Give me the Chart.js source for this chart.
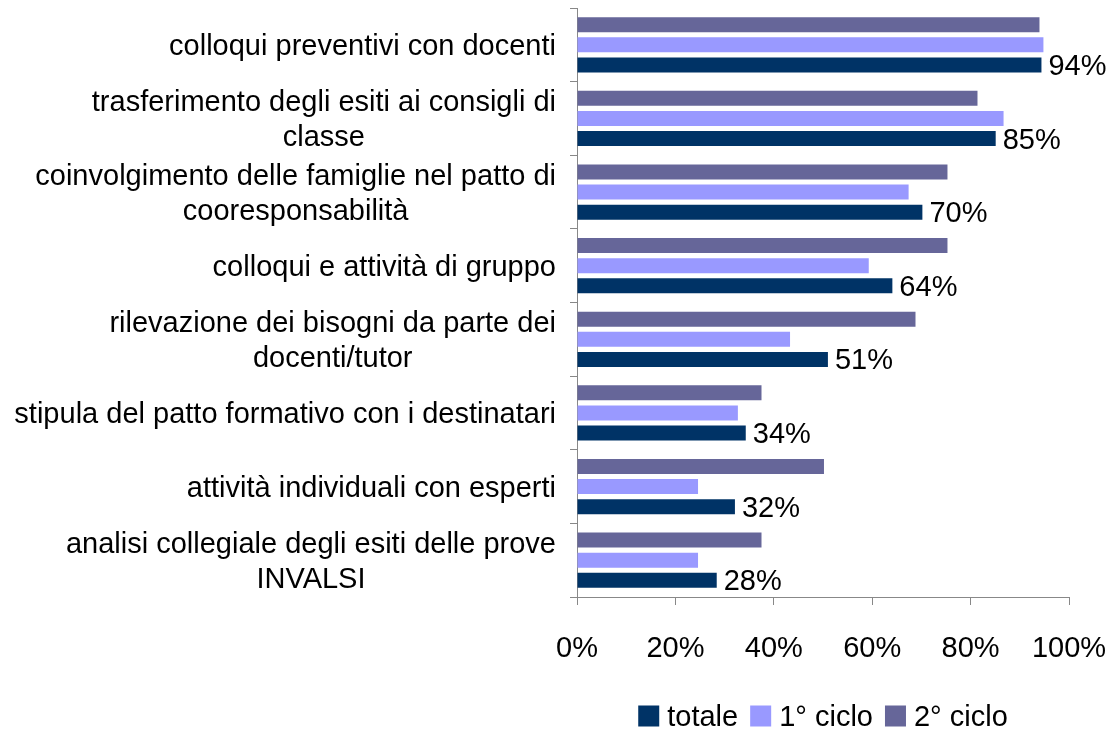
<!DOCTYPE html>
<html lang="it">

<head>
  <meta charset="UTF-8" />
  <title>Attività di orientamento</title>
  <script src="https://cdn.jsdelivr.net/npm/chart.js"></script>
  <style>
    html, body { margin: 0; padding: 0; background: #fff; }
    #wrap { width: 1115px; height: 729px; }
  </style>
</head>

<body>
  <div id="wrap"><canvas id="chart" width="1115" height="729"></canvas></div>

  <script>
    const categories = [
      ['colloqui preventivi con docenti'],
      ['trasferimento degli esiti ai consigli di', 'classe'],
      ['coinvolgimento delle famiglie nel patto di', 'cooresponsabilità'],
      ['colloqui e attività di gruppo'],
      ['rilevazione dei bisogni da parte dei', 'docenti/tutor'],
      ['stipula del patto formativo con i destinatari'],
      ['attività individuali con esperti'],
      ['analisi collegiale degli esiti delle prove', 'INVALSI']
    ];
    const totale = [94.4, 85.1, 70.2, 64.1, 51.0, 34.3, 32.1, 28.4];
    const ciclo1 = [94.8, 86.7, 67.4, 59.3, 43.3, 32.7, 24.6, 24.6];
    const ciclo2 = [94.0, 81.4, 75.3, 75.3, 68.8, 37.5, 50.2, 37.5];
    const xTicks = [0, 20, 40, 60, 80, 100];

    const FONT = '"Liberation Sans", Arial, sans-serif';
    const AXIS = '#888888';

    // category labels: Excel-style, block right-aligned, lines centred
    const catLabels = {
      id: 'catLabels',
      afterDraw(chart) {
        const ctx = chart.ctx;
        const y = chart.scales.y;
        const right = chart.chartArea.left - 21;
        ctx.save();
        ctx.font = '29px ' + FONT;
        ctx.fillStyle = '#000';
        ctx.textAlign = 'center';
        ctx.textBaseline = 'middle';
        categories.forEach((lines, i) => {
          const w = Math.max(...lines.map(l => ctx.measureText(l).width));
          const cy = y.getPixelForValue(i);
          const lh = 35;
          const y0 = cy - (lines.length - 1) * lh / 2;
          lines.forEach((l, j) => ctx.fillText(l, right - w / 2, y0 + j * lh + 2));
        });
        ctx.restore();
      }
    };

    // value labels on "totale"
    const valueLabels = {
      id: 'valueLabels',
      afterDatasetsDraw(chart) {
        const ctx = chart.ctx;
        const meta = chart.getDatasetMeta(2);
        ctx.save();
        ctx.font = '29px ' + FONT;
        ctx.fillStyle = '#000';
        ctx.textAlign = 'left';
        ctx.textBaseline = 'middle';
        meta.data.forEach((bar, i) => {
          ctx.fillText(Math.round(totale[i]) + '%', bar.x + 7, bar.y + 2);
        });
        ctx.restore();
      }
    };

    // legend centred under the plot area
    const bottomLegend = {
      id: 'bottomLegend',
      afterDraw(chart) {
        const ctx = chart.ctx;
        const items = [
          { text: 'totale', color: '#003366' },
          { text: '1° ciclo', color: '#9999FF' },
          { text: '2° ciclo', color: '#666699' }
        ];
        const box = 21, gap = 8, sep = 12;
        ctx.save();
        ctx.font = '29px ' + FONT;
        const widths = items.map(it => ctx.measureText(it.text).width);
        let total = 0;
        widths.forEach((w, i) => { total += box + gap + w + (i < items.length - 1 ? sep : 0); });
        const cx = (chart.chartArea.left + chart.chartArea.right) / 2;
        let x = cx - total / 2;
        const cy = 716;
        ctx.textBaseline = 'middle';
        ctx.textAlign = 'left';
        items.forEach((it, i) => {
          ctx.fillStyle = it.color;
          ctx.fillRect(x, cy - box / 2, box, box);
          ctx.fillStyle = '#000';
          ctx.fillText(it.text, x + box + gap, cy + 2);
          x += box + gap + widths[i] + sep;
        });
        ctx.restore();
      }
    };

    new Chart(document.getElementById('chart'), {
      type: 'bar',
      data: {
        labels: categories.map(c => c.join(' ')),
        datasets: [
          { label: '2° ciclo', data: ciclo2, backgroundColor: '#666699' },
          { label: '1° ciclo', data: ciclo1, backgroundColor: '#9999FF' },
          { label: 'totale', data: totale, backgroundColor: '#003366' }
        ]
      },
      options: {
        indexAxis: 'y',
        responsive: false,
        animation: false,
        categoryPercentage: 0.82,
        barPercentage: 0.74,
        layout: { padding: { top: 8, left: 0, right: 0, bottom: 0 } },
        plugins: {
          legend: { display: false },
          tooltip: { enabled: false }
        },
        scales: {
          x: {
            min: 0,
            max: 100,
            afterBuildTicks(scale) { scale.ticks = xTicks.map(v => ({ value: v })); },
            afterFit(scale) {
              scale.height = 132;
              scale.paddingLeft = 0;
              scale.paddingRight = 46;
            },
            ticks: {
              callback: v => v + '%',
              color: '#000',
              font: { family: FONT, size: 29 },
              padding: 27,
              maxRotation: 0
            },
            grid: { drawOnChartArea: false, tickLength: 8, color: AXIS },
            border: { color: AXIS }
          },
          y: {
            afterFit(scale) {
              scale.width = 577;
              scale.paddingTop = 0;
              scale.paddingBottom = 0;
            },
            ticks: { display: false },
            grid: { drawOnChartArea: false, tickLength: 7, color: AXIS, offset: true },
            border: { color: AXIS }
          }
        }
      },
      plugins: [catLabels, valueLabels, bottomLegend]
    });
  </script>
</body>

</html>
